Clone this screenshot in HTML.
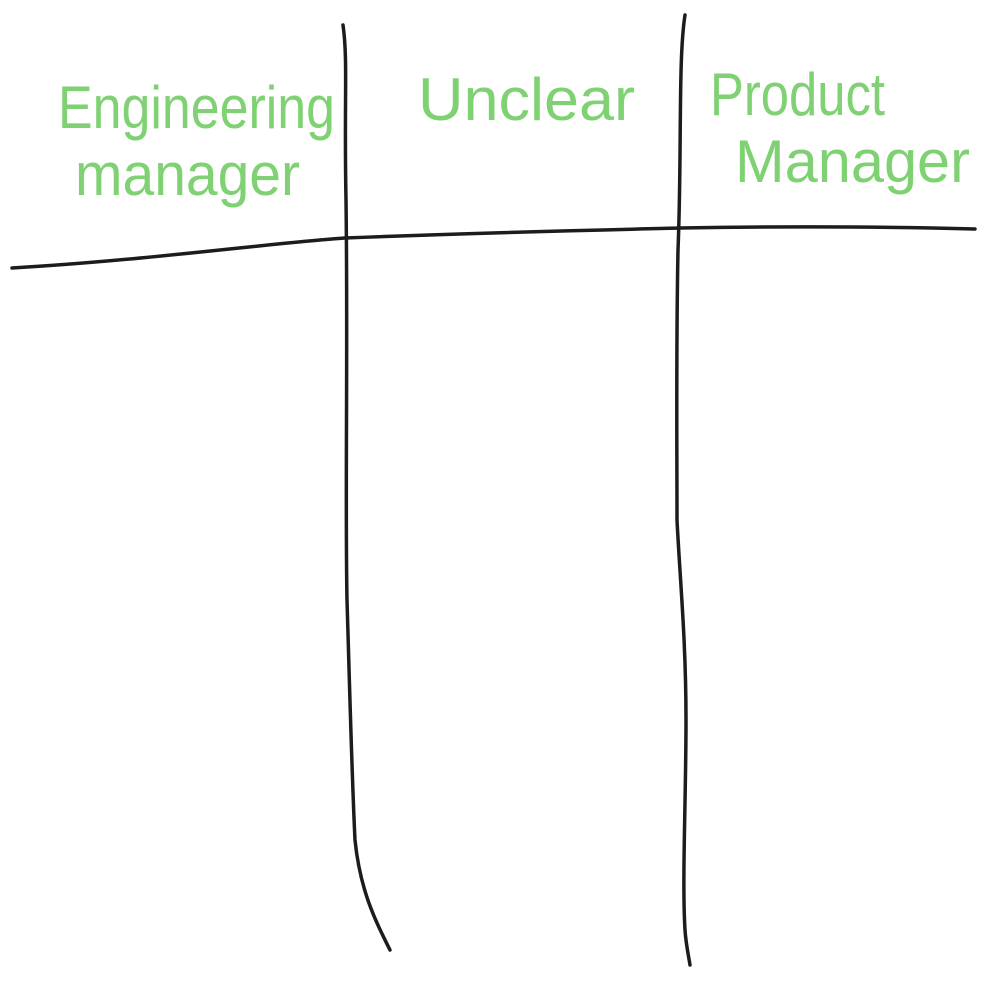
<!DOCTYPE html>
<html><head><meta charset="utf-8"><style>html,body{margin:0;padding:0;background:#fff;}svg{display:block}</style></head>
<body>
<svg width="992" height="986" viewBox="0 0 992 986" xmlns="http://www.w3.org/2000/svg">
<g fill="none" stroke="#1c1c1c" stroke-width="3.5" stroke-linecap="round">
<path d="M12,268 C150,260 280,242 345,238 C500,232 600,230 680,228 C800,226 900,227 975,229"/>
<path d="M343,25 C348,60 344,100 346,200 C348,350 345,500 347,600 C350,700 352,780 355,840 C360,890 375,920 390,950"/>
<path d="M685,15 C678,60 682,150 678,250 C676,350 677,450 677,520 C680,580 686,640 686,720 C686,800 682,880 685,930 C686,945 689,958 690,965"/>
</g>
<g fill="#7fd173" font-family="'Liberation Sans', sans-serif" font-size="60" font-weight="300">
<text x="58" y="128" textLength="277" lengthAdjust="spacingAndGlyphs">Engineering</text>
<text x="75" y="195" textLength="225" lengthAdjust="spacingAndGlyphs">manager</text>
<text x="418" y="120" textLength="217" lengthAdjust="spacingAndGlyphs">Unclear</text>
<text x="710" y="115" textLength="175" lengthAdjust="spacingAndGlyphs">Product</text>
<text x="735" y="182" textLength="235" lengthAdjust="spacingAndGlyphs">Manager</text>
</g>
</svg>
</body></html>
